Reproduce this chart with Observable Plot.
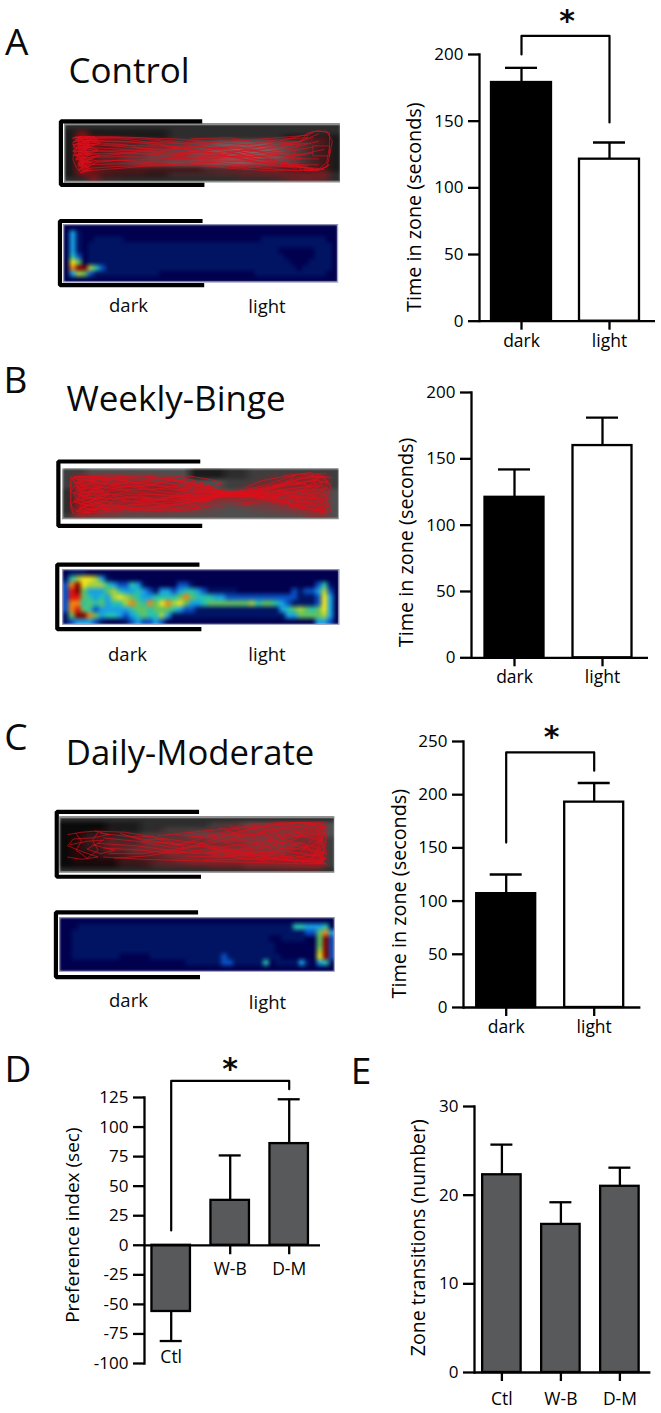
<!DOCTYPE html>
<html><head><meta charset="utf-8">
<script src="https://cdn.jsdelivr.net/npm/d3@7"></script>
<script src="https://cdn.jsdelivr.net/npm/@observablehq/plot@0.6"></script>
<style>
html,body{margin:0;padding:0;background:#fff}
#fig{position:relative;width:661px;height:1413px;overflow:hidden;font-family:"Open Sans",sans-serif;color:#0a0a0a}
.lab{position:absolute;white-space:nowrap;line-height:1;transform:translateX(-50%)}
</style></head><body><div id="fig"></div>
<script>
// ---------- bar chart data ----------
const zones = ["dark", "light"];
const groups = ["Ctl", "W-B", "D-M"];
const zoneFills = ["#000000", "#ffffff"];
const controlMeans = [179, 121.5];
const controlTops = [190, 134];
const bingeMeans = [121, 160];
const bingeTops = [142, 181];
const moderateMeans = [107, 193];
const moderateTops = [125, 211];
const preferenceMeans = [-56, 38, 86];
const preferenceTops = [-81, 76, 123.5];
const transitionMeans = [22.3, 16.7, 21];
const transitionTops = [25.7, 19.2, 23.1];
const timeTicks = [0, 50, 100, 150, 200];
const timeTicksC = [0, 50, 100, 150, 200, 250];
const preferenceTicks = [-100, -75, -50, -25, 0, 25, 50, 75, 100, 125];
const transitionTicks = [0, 10, 20, 30];

// ---------- heat maps: hand-read levels, 0 navy ... 9 red, a dark red ----------
const heatA = [
"0000000000000000000000000000000000000000000000",
"0310000000000000000000000000000000000000000000",
"0310011111000000000000000000000001111111111100",
"0310111111111111111111111111111111111111111110",
"0310111111111111111111111111111111110000001110",
"0420111111111111111111111111111111111000001110",
"0750111111111111111111111111111111111100011110",
"08aa642111111111111111111111111111111110111110",
"0365211111111111000000000000000011111111111100",
"0000000000000000000000000000000000000000000000"];
const heatB = [
"0111000000000000000000000000000000000000000000",
"14677631" + "00000000000000000000000000000000000000",
"28a76664322431" + "00000" + "221" + "00000000000000000000" + "2410",
"29a53335643343" + "213323443" + "211111000000000" + "21223620",
"29954343676543" + "3444458544433" + "22222222222" + "21112730",
"28845453446854" + "8578675334555" + "55556455432" + "11112730",
"28954233333455" + "4555432211111" + "111111111" + "3456545730",
"15aa8534432345" + "4463111111111" + "1111111111" + "335555630",
"1233321" + "0001232232" + "0000000000000000000000000" + "3320"];
const heatC = [
"0000000000000000000000000000000000000000000000",
"0001111111111111111111111111111111111114433340",
"0011111111111111111111111111111111111111122583",
"00111111111111111111111111111111111001111005a2",
"00111111111111111111111111111111111100000005a2",
"00111111111111111111111111111111111100000006a2",
"00111111110000011111111111121111111110000007a2",
"0000000000000000000001111112211111401111310341",
"0000000000000000000000000000000000000000000000"];
const heatLevels = "0123456789a";
const heatColors = ["#00004e","#011464","#0a50c2","#18a0e4","#27c2b0","#62c260","#a9d23e","#f2e31c","#f38510","#e1150f","#7e0000"];

// ---------- arena photographs: hand-read grey levels, 0 black ... 9 light ----------
const photoA = [
"222222222222222222222222",
"111111111222222222222222",
"111111111222222222211111",
"111122233334455555443211",
"111122333444556666543211",
"111223344445566666543211",
"111223344445566665543211",
"111223444555566655443211",
"111111111111222222211111",
"111111111222222222222222",
"222222222222222222222222"];
const photoB = [
"334444444441112233333333",
"334444444441112233333333",
"334444444444443333333333",
"333333333344443333333333",
"233333333344444444444444",
"233333333344444444444444",
"223333333344444444444444",
"223444444444444444444444",
"233444444444444444444444",
"344444444444444444444444"];
const photoC = [
"222222222222222222222222",
"000011122222233344444444",
"000011122333333344444444",
"001112233334444444444444",
"001122233333344444443333",
"001122233333333344444333",
"001122333333344444443333",
"000111222333344444443333",
"000001112233333333333333",
"000001112222222233333333",
"222222222222222222222222"];

// ---------- red trace density under the lines, hand-read, 0 none ... 9 solid ----------
const densityA = [
"000000000000000000000000",
"070000000000000000000000",
"098643211111111111112440",
"096543332222222222233230",
"085444443333333222222130",
"085444444444443333222130",
"085444433333334444443330",
"086433322222233445555560",
"006110000000000111245540"];
const densityB = [
"000000000000000000000000",
"086664553200000001345670",
"097777765431000024567770",
"097667777666410257776770",
"096567778887776888776770",
"096567888887777776666770",
"097667777666531344567770",
"0a7775455544210012345770",
"085431111000000000001450"];
const densityC = [
"000000000000000000000000",
"000000000000012334566660",
"001210001122344566656790",
"022331233344455555544590",
"022344444455566665544690",
"021244455555566666655790",
"021223344566677777777790",
"011112233446677777778890",
"000000000000011122233330"];

// ---------- arena tracks, hand-traced polylines in percent of the arena ----------
const trackA = [
"3,24 9,22 4,30 10,28 3,36 9,35 4,42 10,40 3,48 9,47 4,54 10,52 4,60 9,60 5,66 10,66 5,72 9,72 5,78 9,80 6,83",
"4,22 7,30 5,38 8,46 4,54 7,62 5,70 8,78 6,84 4,72 3,60 4,46 3,34 5,24",
"6,22 5,34 8,40 5,50 8,58 6,68 9,76 7,82 6,70 9,60 7,48 9,36 8,24",
"3,26 6,22 3,32 6,28 3,40 6,36 3,46 6,42 3,54 6,50 4,62 7,58 5,68 7,64 6,76",
"8,22 12,26 7,30 13,34 8,38 12,44 8,50 13,54 9,60 12,64",
"5,22 9,24 4,27 8,31 5,34 9,38 4,41 8,44 5,47 9,51 4,55 8,58 5,62 9,65 5,69 8,74",
"7,23 11,22 8,28 12,30 7,33 11,37 7,42 12,47 7,52 11,57 8,63 11,68 8,74 10,80",
"4,23 16,22 28,24 40,30 52,36 64,48 76,62 88,76 94,78",
"5,25 18,24 30,27 42,34 55,44 68,58 80,70 90,76",
"6,28 20,30 34,36 46,44 58,54 70,66 84,76",
"5,34 18,38 32,44 46,50 60,56 74,62 88,72",
"6,40 22,44 36,50 50,56 64,50 78,40 90,24",
"5,48 22,46 38,48 54,50 70,44 84,32 92,18",
"6,52 24,50 40,52 56,56 72,56 86,52 94,44",
"6,58 20,56 34,58 50,62 66,62 80,60 92,60",
"7,64 24,62 40,60 54,58 68,52 82,42 92,30",
"7,70 22,68 36,70 50,66 64,64 78,68 90,78",
"8,76 22,72 34,72 48,70 62,72 78,78 90,80",
"8,80 20,76 30,72 44,68 60,76 74,80 86,80",
"10,24 26,24 40,26 54,32 66,36 78,30 90,16",
"12,30 30,32 44,34 58,30 72,26 88,20",
"14,36 30,38 46,40 60,42 74,38 88,34",
"9,26 20,26 32,32 40,40 52,46 60,40 68,46 78,50 90,40",
"10,32 22,36 28,42 38,44 48,38 58,44 66,56 76,52 86,60",
"9,44 18,48 30,52 42,56 52,60 62,58 72,66 82,70 92,70",
"10,56 20,52 30,46 40,42 50,48 58,52 66,44 76,34 86,30",
"11,66 20,62 30,66 42,64 54,66 64,70 76,72 88,74",
"46,26 60,24 70,32 80,26 88,24",
"50,44 62,38 72,50 82,56 90,50",
"56,70 66,76 74,70 84,74 92,76",
"86,28 88,16 92,12 96,16 96,40 95,66 92,78 88,80 85,76 83,60 84,40 86,28",
"87,26 90,14 95,13 97,30 96,56 95,74 91,80 87,78",
"85,72 89,78 93,77 96,70 92,80 87,80",
"90,38 96,38 96,55 90,55 90,38"];
const trackB = [
"3,20 3,40 3,60 3,80 4,90 3,70 3,50 3,30 4,18 9,16 14,15",
"4,18 8,30 5,40 10,50 5,60 11,70 6,80 10,88 5,84 9,72 4,66 9,58 4,48 9,38 5,28 9,20",
"6,20 12,25 7,35 13,42 6,52 12,60 7,70 13,78 8,86 14,76 9,66 14,56 9,46 14,36 10,26 14,18",
"10,18 17,25 11,38 17,48 11,58 18,68 12,78 17,84 12,70 18,58 13,44 18,34 14,22",
"4,28 10,24 16,32 10,44 16,54 10,64 16,74 8,82",
"5,36 11,32 15,44 8,54 14,66 7,76 12,82",
"3,16 5,30 3,44 5,58 3,72 5,86 7,74 5,62 7,48 5,34 7,22",
"7,16 14,22 20,16 24,26 18,34 24,44 18,54 24,64 18,74 24,82",
"3,20 15,13 28,14 40,20 52,38 60,48 72,35 85,12 95,10",
"4,16 18,14 30,18 42,26 54,42 62,50 74,40 86,20 96,16",
"5,22 20,20 32,16 44,24 56,44 66,46 78,30 88,14 97,18",
"6,30 20,30 34,26 46,36 58,48 70,44 82,30 92,24 97,30",
"6,40 20,36 34,32 48,42 60,50 72,48 84,38 94,34",
"6,48 22,42 36,40 50,48 62,48 74,50 86,44 96,40",
"7,54 22,50 36,52 48,54 60,52 72,52 84,50 96,50",
"7,60 22,58 36,58 50,52 62,46 74,54 86,60 96,58",
"7,66 20,66 34,62 48,58 60,50 72,56 84,66 94,66",
"8,72 20,74 32,70 46,64 58,52 70,58 82,70 92,74",
"8,80 20,80 32,78 44,68 56,54 68,56 80,72 90,82 96,76",
"7,88 18,84 30,76 42,72 54,58 66,52 78,64 88,80 96,84",
"10,84 20,76 34,84 46,74 56,56 66,48 76,58 86,74 94,86",
"6,16 18,22 30,30 44,44 58,50 70,46 84,24 92,12",
"8,24 22,34 36,46 50,54 62,50 74,42 86,28 94,18",
"10,34 24,44 38,54 52,56 64,50 76,46 88,36 96,24",
"10,44 24,56 38,64 50,60 60,52 74,50 88,56 96,66",
"12,56 26,66 40,72 50,62 62,50 76,54 88,66 95,78",
"12,68 26,78 36,84 46,84 54,60 64,46 76,36 88,30",
"14,80 28,70 40,56 52,44 62,48 74,56 88,80",
"14,16 26,28 38,36 50,30 56,44 64,52",
"16,24 28,36 40,22 50,44 62,52",
"20,14 30,24 42,16 52,30 58,48",
"18,40 26,34 32,42 40,36 46,46 52,40 60,46 66,52 72,46 80,44",
"18,62 28,54 34,62 42,52 48,60 56,50 64,50 70,54 78,58 86,54",
"22,22 30,38 36,26 44,40 50,34 54,50 60,48",
"22,76 30,60 38,76 44,60 50,66 56,52",
"36,14 46,15 54,22 58,30 53,36 46,26 38,22",
"30,60 40,84 50,78 44,66 54,62",
"24,84 34,80 46,80 56,72",
"56,74 66,72 72,64 62,70",
"66,38 72,24 78,18 84,14 80,30 74,44",
"80,14 90,8 94,30 88,48 94,70 90,88",
"84,30 92,22 86,46 92,56 84,70 92,82 96,66 94,44 96,26 92,10",
"88,18 94,14 97,36 95,60 97,84 93,90",
"90,12 92,40 90,62 93,88 96,72",
"78,52 86,42 82,60 90,70 84,82 80,66",
"76,34 84,26 90,36 84,48 78,42 86,60 92,48 96,36"];
const trackC = [
"3,32 8,28 13,26 18,32 12,38 5,40 3,52 8,62 14,72 8,76 3,72",
"4,50 10,44 16,42 10,58 15,66 20,60 12,50",
"6,30 8,44 6,60 10,74 14,60 12,42 14,28",
"13,26 24,28 36,38 48,46 60,56 74,68 88,74 96,78",
"15,30 26,36 38,48 50,52 62,62 76,72 90,78",
"16,38 28,44 40,54 52,62 64,68 78,76 92,80",
"14,48 28,52 40,60 54,66 68,76 82,78 95,82",
"16,56 30,60 42,66 54,58 66,50 80,40 94,30",
"18,66 30,66 42,58 54,48 66,36 80,22 94,12",
"20,74 32,70 44,60 56,40 68,24 82,12 96,10",
"16,72 30,76 44,78 60,80 74,82 88,84 97,84",
"22,30 30,42 38,40 46,56 54,52 64,72 76,80",
"26,36 34,36 42,52 50,44 58,62 70,66 84,80",
"36,34 48,28 60,22 72,18 86,12 96,12",
"42,32 54,38 64,28 76,14 90,10 97,24",
"48,38 58,30 70,14 82,10 92,14",
"30,44 44,48 56,34 68,32 80,30 92,38 97,52",
"38,62 50,66 62,60 74,54 88,58 97,66",
"46,70 58,72 70,66 82,62 94,70",
"52,78 64,76 76,74 88,78 96,80",
"56,56 68,64 78,50 86,40 90,22 84,14",
"62,44 72,40 78,62 84,74 92,68",
"66,60 72,74 80,58 88,46 92,62 96,76",
"72,30 78,20 80,36 86,50 80,70 86,82",
"74,18 76,44 82,62 90,66",
"78,26 84,18 88,32 84,44 94,56 92,74",
"80,14 86,28 92,40 88,60 96,40",
"64,18 74,24 84,38 94,20",
"70,50 82,46 96,64 90,80",
"58,20 66,34 60,46 70,56 66,70 76,62 80,78 86,68",
"62,16 70,38 74,28 82,52 76,40 88,26 92,14",
"84,60 90,52 86,72 94,66 88,82 96,76",
"86,10 94,14 96,30 95,50 97,66 95,84 96,58 97,36 95,18 97,10",
"94,10 97,26 94,44 97,60 94,76 97,86",
"95,14 94,34 96,48 94,62 96,80 93,84 96,70 94,52 96,28",
"92,70 96,62 93,78 97,74 90,84 96,84",
"93,16 97,18 93,26 97,32 93,40 97,46"];

// ---------- drawing ----------
const fig = document.getElementById("fig");
const font = '"Open Sans", sans-serif';

function label(text, x, y, size, extra = "") {
  const d = document.createElement("div");
  d.className = "lab";
  d.textContent = text;
  d.style.cssText = `left:${x}px;top:${y - 0.55 * size}px;font-size:${size}px;${extra}`;
  fig.append(d);
}

function barChart(o) {
  const n = o.cats.length, s = o.step, b = o.band;
  const totalOuter = (o.right - o.axisX) - (s * n - (s - b));
  const leftOuter = o.first - b / 2 - o.axisX;
  const L = o.axisX - 72, T = o.yTop - 50, W = o.right - L + 2, H = o.yBottom - T + 48;
  const rows = o.cats.map((c, i) => ({c, mean: o.means[i], top: o.tops[i], fill: o.fills ? o.fills[i] : "#58595b"}));
  const marks = [
    Plot.ruleX(rows, {x: "c", y1: "mean", y2: "top", stroke: "#000", strokeWidth: 2.3}),
    Plot.tickY(rows, {x: "c", y: "top", stroke: "#000", strokeWidth: 2.3, insetLeft: (b - o.cap) / 2, insetRight: (b - o.cap) / 2}),
    Plot.barY(rows, {x: "c", y1: 0, y2: "mean", fill: "fill", stroke: "#000", strokeWidth: 2.3}),
    Plot.frame({anchor: "left", stroke: "#000", strokeWidth: 2.3}),
    Plot.ruleY([0], {stroke: "#000", strokeWidth: 2.3}),
    Plot.axisY({ticks: o.ticks, tickFormat: d => String(d), tickSize: 11, tickPadding: 5, strokeWidth: 2.3, fontSize: 17, label: null}),
    Plot.text([o.label], {y: () => o.labelAt, frameAnchor: "left", dx: -o.labelOffset, rotate: -90, textAnchor: "middle", fontSize: o.labelSize ?? 19.8, fill: "#000"})
  ];
  if (o.bracket) marks.push(Plot.line(o.bracket, {x: "x", y: "y", stroke: "#000", strokeWidth: 2.2}));
  if (o.inlineTicks) {
    marks.push(Plot.ruleX(o.inlineTicks, {x: d => d, y1: 0, y2: o.inlineTickEnd, stroke: "#000", strokeWidth: 2.3}));
    marks.push(Plot.text(o.inlineLabels, {x: "c", y: "y", text: "c", fontSize: 17.5, fill: "#000"}));
  } else {
    marks.push(Plot.axisX({anchor: "bottom", tickSize: 9, tickPadding: o.tickPad ?? 4, strokeWidth: 2.3, fontSize: 17.5, label: null}));
  }
  const svg = Plot.plot({
    width: W, height: H,
    marginLeft: o.axisX - L, marginRight: L + W - o.right,
    marginTop: o.yTop - T, marginBottom: T + H - o.yBottom,
    x: {type: "band", domain: o.cats, round: false, paddingInner: 1 - b / s, paddingOuter: totalOuter / 2 / s, align: leftOuter / totalOuter, ...(o.inlineTicks ? {axis: null} : {})},
    y: {domain: o.domain},
    color: {type: "identity"},
    style: {fontFamily: font, color: "#000", background: "transparent", overflow: "visible", position: "absolute", left: L + "px", top: T + "px"},
    marks
  });
  fig.append(svg);
}

function arena(o) {
  const flat = (g) => {
    const cols = d3.max(g, r => r.length);
    return {cols, rows: g.length, values: g.flatMap(r => Array.from(r.padEnd(cols, "0").slice(0, cols), c => heatLevels.indexOf(c)))};
  };
  const g = flat(o.grid);
  const L = o.x - 12, T = o.y - 14, W = o.w + 14, H = o.h + 28;
  const marks = [
    Plot.raster(g.values, {width: g.cols, height: g.rows, x1: 0, y1: 0, x2: 100, y2: 100, fill: d => d, imageRendering: "auto", clip: true})
  ];
  if (o.paths) {
    const dens = flat(o.density);
    marks.push(Plot.raster(dens.values, {width: dens.cols, height: dens.rows, x1: 0, y1: 0, x2: 100, y2: 100, fill: "#c80f18", fillOpacity: d => d, imageRendering: "auto", clip: true}));
    const pts = o.paths.flatMap((p, i) => p.split(" ").map(q => { const [x, y] = q.split(",").map(Number); return {x, y, i}; }));
    marks.push(Plot.line(pts, {x: "x", y: "y", z: "i", stroke: "#dd0f1b", strokeWidth: o.sw ?? 0.8, strokeOpacity: 0.85}));
    marks.push(Plot.ruleY(o.edges, {stroke: "#8c8c8c", strokeWidth: 1.6}));
  } else {
    marks.push(Plot.frame({stroke: "#8f93b5", strokeWidth: 0.8}));
  }
  const br = o.bracket;
  marks.push(Plot.line([{x: br[1], y: br[3]}, {x: br[0], y: br[3]}, {x: br[0], y: br[4]}, {x: br[2], y: br[4]}],
    {x: "x", y: "y", stroke: "#000", strokeWidth: 4.2, strokeLinejoin: "miter", strokeLinecap: "butt"}));
  const svg = Plot.plot({
    width: W, height: H, marginLeft: o.x - L, marginRight: L + W - o.x - o.w, marginTop: o.y - T, marginBottom: T + H - o.y - o.h,
    x: {domain: [0, 100], axis: null},
    y: {domain: [100, 0], axis: null},
    color: {type: "linear", domain: o.colorDomain, range: o.colorRange, interpolate: "rgb"},
    opacity: {type: "linear", domain: [0, 9], range: [0, 0.72]},
    style: {background: "transparent", overflow: "visible", position: "absolute", left: L + "px", top: T + "px"},
    marks
  });
  svg.querySelectorAll("image").forEach(im => { im.style.filter = "blur(" + (o.paths ? 1 : 1.2) + "px)"; });
  fig.append(svg);
}
const heatOpts = {colorDomain: heatColors.map((_, i) => i), colorRange: heatColors};
const greyOpts = {colorDomain: [0, 9], colorRange: ["#0a0a0a", "#a6a6a6"]};

// arenas
arena({x: 64, y: 122.7, w: 276, h: 59, grid: photoA, density: densityA, paths: trackA, edges: [1.5, 98.5], bracket: [-1.3, 49.9, 50.7, -3.7, 103.9], ...greyOpts});
arena({x: 62.7, y: 224, w: 274.3, h: 57.7, grid: heatA, bracket: [-1.3, 50.7, 51.3, -6.1, 105.2], ...heatOpts});
arena({x: 62.3, y: 468.3, w: 276.7, h: 50.7, grid: photoB, density: densityB, paths: trackB, edges: [98.5], sw: 0.85, bracket: [-1.5, 49.8, 50.5, -13.8, 113.3], ...greyOpts});
arena({x: 62.3, y: 569.3, w: 276.7, h: 55, grid: heatB, bracket: [-1.9, 49.5, 50.2, -8.9, 108.5], ...heatOpts});
arena({x: 59, y: 816, w: 275.3, h: 56.3, grid: photoC, density: densityC, paths: trackC, edges: [1.5, 98.5], bracket: [-1, 50.7, 51.4, -8.3, 107], ...greyOpts});
arena({x: 59, y: 916.7, w: 275, h: 54, grid: heatC, bracket: [-1.3, 50.4, 51.1, -9.4, 110.3], ...heatOpts});

// bars
barChart({axisX: 479, right: 655, yTop: 54.3, yBottom: 321, domain: [0, 200], cats: zones, first: 521, step: 88, band: 60, cap: 32,
  means: controlMeans, tops: controlTops, fills: zoneFills, ticks: timeTicks, label: "Time in zone (seconds)", labelAt: 85.5, labelOffset: 65,
  bracket: [{x: "dark", y: 200}, {x: "dark", y: 214}, {x: "light", y: 214}, {x: "light", y: 149}]});
barChart({axisX: 471, right: 648, yTop: 392, yBottom: 657.3, domain: [0, 200], cats: zones, first: 514, step: 88, band: 59, cap: 32,
  means: bingeMeans, tops: bingeTops, fills: zoneFills, ticks: timeTicks, label: "Time in zone (seconds)", labelAt: 87, labelOffset: 64.5});
barChart({axisX: 463.3, right: 640.7, yTop: 740.7, yBottom: 1006.7, domain: [0, 250], cats: zones, first: 506, step: 88, band: 59, cap: 32,
  means: moderateMeans, tops: moderateTops, fills: zoneFills, ticks: timeTicksC, label: "Time in zone (seconds)", labelAt: 107, labelOffset: 64,
  bracket: [{x: "dark", y: 155}, {x: "dark", y: 239.7}, {x: "light", y: 239.7}, {x: "light", y: 222.5}]});
barChart({axisX: 144, right: 320, yTop: 1096.7, yBottom: 1362.7, domain: [-100, 125], cats: groups, first: 170.7, step: 59, band: 38.5, cap: 22,
  means: preferenceMeans, tops: preferenceTops, ticks: preferenceTicks, label: "Preference index (sec)", labelAt: 17, labelOffset: 71.5, labelSize: 19,
  bracket: [{x: "Ctl", y: 12.5}, {x: "Ctl", y: 139}, {x: "D-M", y: 139}, {x: "D-M", y: 132}],
  inlineTicks: ["W-B", "D-M"], inlineTickEnd: -8,
  inlineLabels: [{c: "Ctl", y: -95}, {c: "W-B", y: -20}, {c: "D-M", y: -20}]});
barChart({axisX: 474.3, right: 650.7, yTop: 1106, yBottom: 1372, domain: [0, 30], cats: groups, first: 501.7, step: 59, band: 38.5, cap: 22,
  means: transitionMeans, tops: transitionTops, ticks: transitionTicks, label: "Zone transitions (number)", labelAt: 15.2, labelOffset: 56, labelSize: 19.5, tickPad: 11});

// panel letters, titles, arena zone labels, significance stars
label("A", 16.7, 42, 37);
label("B", 15.5, 380, 37);
label("C", 16, 737, 37);
label("D", 18, 1069, 37);
label("E", 361, 1071, 37);
label("Control", 129, 71.5, 35);
label("Weekly-Binge", 176, 399.5, 35);
label("Daily-Moderate", 190, 754.5, 34.7);
for (const [t, x, y] of [["dark", 128.5, 306], ["light", 267, 307], ["dark", 127.5, 655], ["light", 267, 655.6], ["dark", 128.5, 1001.6], ["light", 267.5, 1003]]) label(t, x, y, 18.5);
for (const [x, y] of [[567, 22.5], [551.7, 738.2], [230, 1070.5]]) label("*", x, y, 30, 'font-family:"DejaVu Sans";font-weight:700;');
</script></body></html>
